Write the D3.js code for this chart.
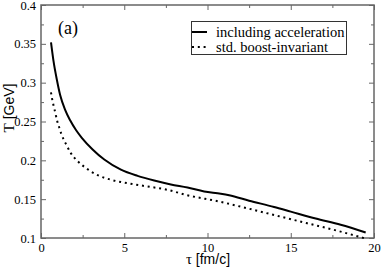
<!DOCTYPE html>
<html>
<head>
<meta charset="utf-8">
<script src="https://cdn.jsdelivr.net/npm/d3@7"></script>
<style>
  body { margin: 0; background: #fff; }
  svg { display: block; }
  .frame path.domain { stroke: none; }
  .tick line { stroke: #666; stroke-width: 1; }
</style>
</head>
<body>
<div id="chart"></div>
<script>
// tau [fm/c] and T [GeV]
var accelTau = [0.6, 0.75, 0.95, 1.15, 1.45, 1.75, 2.1, 2.45, 3.1, 3.8, 4.8, 5.8, 6.8, 7.8, 8.8, 9.8, 10.8, 11.3, 12.5, 14.0, 15.0, 16.5, 18.0, 19.5];
var accelT   = [0.352, 0.328, 0.304, 0.284, 0.265, 0.2515, 0.239, 0.229, 0.214, 0.201, 0.188, 0.180, 0.174, 0.169, 0.165, 0.160, 0.157, 0.155, 0.148, 0.140, 0.134, 0.125, 0.117, 0.107];

var boostTau = [0.6, 0.65, 0.75, 0.85, 0.98, 1.1, 1.22, 1.5, 1.8, 2.2, 2.7, 3.4, 4.2, 5.2, 6.2, 7.6, 8.75, 10.75, 12.0, 14.0, 16.0, 18.0, 19.4];
var boostT   = [0.2875, 0.281, 0.271, 0.262, 0.250, 0.242, 0.234, 0.221, 0.209, 0.199, 0.190, 0.181, 0.175, 0.1705, 0.167, 0.162, 0.1553, 0.1467, 0.1403, 0.1296, 0.1189, 0.1082, 0.0998];

var seriesNames = ["including acceleration", "std. boost-invariant"];
var xTicks = [0, 5, 10, 15, 20];
var yTicks = [0.1, 0.15, 0.2, 0.25, 0.3, 0.35, 0.4];
var xMinor = [2.5, 7.5, 12.5, 17.5];
var yMinor = [0.125, 0.175, 0.225, 0.275, 0.325, 0.375];

var chart_width = 382;
var chart_height = 269;
var plotLeft = 41, plotRight = 374, plotTop = 5, plotBottom = 238;

var svg = d3.select("#chart")
  .append("svg")
  .attr("width", chart_width)
  .attr("height", chart_height);

var x_scale = d3.scaleLinear().domain([0, 20]).range([plotLeft, plotRight]);
var y_scale = d3.scaleLinear().domain([0.1, 0.4]).range([plotBottom, plotTop]);

function fmtY(d) {
  return d3.format(".2~f")(d);
}

// major + minor ticks on all four sides, pointing inward
svg.append("g").attr("class", "frame")
  .attr("transform", "translate(0," + plotBottom + ")")
  .call(d3.axisBottom(x_scale).tickValues(xTicks).tickSizeInner(-5).tickSizeOuter(0).tickPadding(5));
svg.append("g").attr("class", "frame")
  .attr("transform", "translate(0," + plotBottom + ")")
  .call(d3.axisBottom(x_scale).tickValues(xMinor).tickSizeInner(-3).tickSizeOuter(0).tickFormat(""));
svg.append("g").attr("class", "frame")
  .attr("transform", "translate(0," + plotTop + ")")
  .call(d3.axisTop(x_scale).tickValues(xTicks).tickSizeInner(-5).tickSizeOuter(0).tickFormat(""));
svg.append("g").attr("class", "frame")
  .attr("transform", "translate(0," + plotTop + ")")
  .call(d3.axisTop(x_scale).tickValues(xMinor).tickSizeInner(-3).tickSizeOuter(0).tickFormat(""));

svg.append("g").attr("class", "frame")
  .attr("transform", "translate(" + plotLeft + ",0)")
  .call(d3.axisLeft(y_scale).tickValues(yTicks).tickSizeInner(-5).tickSizeOuter(0).tickPadding(5).tickFormat(fmtY));
svg.append("g").attr("class", "frame")
  .attr("transform", "translate(" + plotLeft + ",0)")
  .call(d3.axisLeft(y_scale).tickValues(yMinor).tickSizeInner(-3).tickSizeOuter(0).tickFormat(""));
svg.append("g").attr("class", "frame")
  .attr("transform", "translate(" + plotRight + ",0)")
  .call(d3.axisRight(y_scale).tickValues(yTicks).tickSizeInner(-5).tickSizeOuter(0).tickFormat(""));
svg.append("g").attr("class", "frame")
  .attr("transform", "translate(" + plotRight + ",0)")
  .call(d3.axisRight(y_scale).tickValues(yMinor).tickSizeInner(-3).tickSizeOuter(0).tickFormat(""));

svg.selectAll(".frame")
  .attr("font-family", "Liberation Serif")
  .attr("font-size", 12.5);
svg.selectAll(".frame .tick text").attr("fill", "#000");

// frame box
svg.append("rect")
  .attr("x", plotLeft)
  .attr("y", plotTop)
  .attr("width", plotRight - plotLeft)
  .attr("height", plotBottom - plotTop)
  .attr("fill", "none")
  .attr("stroke", "#666")
  .attr("stroke-width", 1.5);

// curves
var line = d3.line()
  .x(function(d) { return x_scale(d[0]); })
  .y(function(d) { return y_scale(d[1]); })
  .curve(d3.curveMonotoneX);

var accel = accelTau.map(function(t, i) { return [t, accelT[i]]; });
var boost = boostTau.map(function(t, i) { return [t, boostT[i]]; });

svg.append("path")
  .datum(accel)
  .attr("d", line)
  .attr("fill", "none")
  .attr("stroke", "#000")
  .attr("stroke-width", 2);

svg.append("path")
  .datum(boost)
  .attr("d", line)
  .attr("fill", "none")
  .attr("stroke", "#000")
  .attr("stroke-width", 2)
  .attr("stroke-dasharray", "2,3.8");

// panel label
svg.append("text")
  .attr("x", 58)
  .attr("y", 34)
  .attr("font-family", "Liberation Serif")
  .attr("font-size", 18)
  .text("(a)");

// legend
var legend = svg.append("g");
legend.append("rect")
  .attr("x", 191.5)
  .attr("y", 21.5)
  .attr("width", 155)
  .attr("height", 33)
  .attr("fill", "#fff")
  .attr("stroke", "#333")
  .attr("stroke-width", 1);

var legendY = [32, 47];
legend.selectAll("line.key")
  .data(seriesNames)
  .enter()
  .append("line")
  .attr("x1", 192)
  .attr("x2", 207)
  .attr("y1", function(d, i) { return legendY[i]; })
  .attr("y2", function(d, i) { return legendY[i]; })
  .attr("stroke", "#000")
  .attr("stroke-width", 2)
  .attr("stroke-dasharray", function(d, i) { return i === 0 ? null : "2,3.8"; });

legend.selectAll("text.key")
  .data(seriesNames)
  .enter()
  .append("text")
  .attr("x", 216)
  .attr("y", function(d, i) { return legendY[i] + 5; })
  .attr("font-family", "Liberation Serif")
  .attr("font-size", 14.5)
  .text(function(d) { return d; });

// axis titles
var xTitle = svg.append("text")
  .attr("x", 208)
  .attr("y", 264)
  .attr("text-anchor", "middle")
  .attr("font-size", 15);
xTitle.append("tspan").attr("font-family", "Liberation Serif").text("τ");
xTitle.append("tspan").attr("font-family", "Liberation Sans").attr("font-size", 14).text(" [fm/c]");

var yTitle = svg.append("text")
  .attr("transform", "translate(14,108) rotate(-90)")
  .attr("text-anchor", "middle")
  .attr("font-size", 15);
yTitle.append("tspan").attr("font-family", "Liberation Serif").text("T");
yTitle.append("tspan").attr("font-family", "Liberation Sans").attr("font-size", 14).text(" [GeV]");
</script>
</body>
</html>
